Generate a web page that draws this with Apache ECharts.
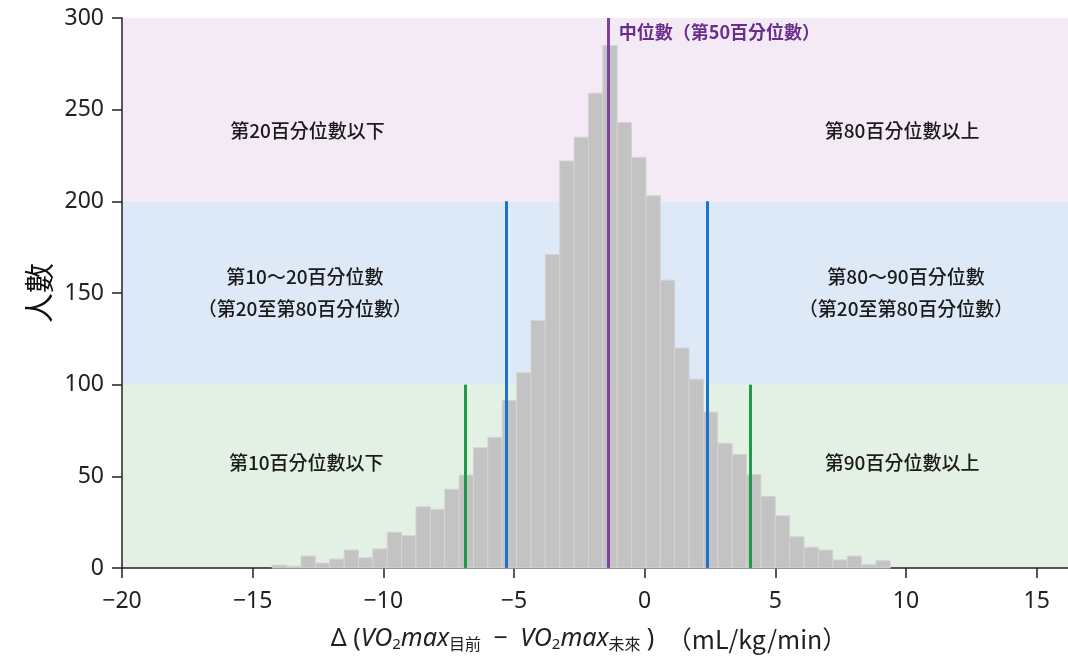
<!DOCTYPE html>
<html>
<head>
<meta charset="utf-8">
<script src="https://cdn.jsdelivr.net/npm/echarts@6/dist/echarts.min.js"></script>
<style>
  html, body { margin: 0; padding: 0; background: #ffffff; }
  #chart { width: 1068px; height: 659px; }
</style>
</head>
<body>
<div id="chart"></div>
<script>
// Histogram of ΔVO2max (current − future), 0.55 mL/kg/min bins
const binStart = -14.25;
const binWidth = 0.55;
const counts = [
  1.6, 1, 6.5, 2.7, 4.9, 9.8, 5.6, 10.4, 19.5, 17.6,
  33.4, 32, 43, 50.7, 65.6, 71.3, 91.3, 106.5,
  135, 171, 222, 235, 259, 285, 243, 224, 203, 157,
  120, 103, 85, 68, 62, 51, 39, 28.5, 17, 11.3,
  9.8, 4.4, 6.5, 1.8, 4
];

// Percentile positions on the x axis
const median = -1.385;
const p20 = -5.31, p80 = 2.39;
const p10 = -6.88, p90 = 4.05;

// Shaded count bands
const bandEdges = [0, 100, 200, 300];
const bandColors = ['#e2f1e3', '#dde9f6', '#f3eaf6'];

const xTicks = [-20, -15, -10, -5, 0, 5, 10, 15];

// Region captions: [text, x, y]
const captions = [
  ['第20百分位數以下', -12.9, 238.4],
  ['第10～20百分位數', -13.0, 158.8],
  ['（第20至第80百分位數）', -13.0, 141.3],
  ['第10百分位數以下', -12.95, 57.3],
  ['第80百分位數以上', 9.85, 238.4],
  ['第80～90百分位數', 10.0, 158.8],
  ['（第20至第80百分位數）', 10.0, 141.3],
  ['第90百分位數以上', 9.85, 57.3]
];
const medianCaption = '中位數（第50百分位數）';
const medianCaptionPos = [-0.99, 292.4];

const histData = counts.map((c, i) => [binStart + i * binWidth, binStart + (i + 1) * binWidth, c]);

const FONT = '"Noto Sans", "Noto Sans CJK TC", sans-serif';
const CJK = '"Noto Sans CJK TC", "Noto Sans", sans-serif';

function vline(x, top, color) {
  return [
    { coord: [x, 0], lineStyle: { color: color, width: 3, type: 'solid', opacity: 1 } },
    { coord: [x, top] }
  ];
}

const chart = echarts.init(document.getElementById('chart'), null, { renderer: 'canvas' });

chart.setOption({
  animation: false,
  backgroundColor: '#ffffff',
  grid: { left: 122, right: 0, top: 18, bottom: 91 },
  xAxis: {
    type: 'value',
    min: -20,
    max: 16.2,
    interval: 5,
    splitLine: { show: false },
    axisLine: { onZero: false, lineStyle: { color: '#222', width: 1.5 } },
    axisTick: { length: 10, lineStyle: { color: '#222', width: 1.5 }, customValues: xTicks },
    axisLabel: {
      customValues: xTicks,
      color: '#222', fontSize: 23, fontFamily: FONT, margin: 22,
      formatter: v => String(v).replace('-', '−')
    },
    name: '{d|Δ }{p|(}{i|VO}{sub|2}{i|max}{s|目前}{g|  }{p|−}{g|  }{i|VO}{sub|2}{i|max}{s|未來}{g| }{p|)}{g|  }{q|（mL/kg/min）}',
    nameLocation: 'middle',
    nameGap: 58,
    nameTextStyle: {
      rich: {
        d: { fontSize: 25, color: '#222', fontFamily: FONT },
        g: { fontSize: 24, color: '#222', fontFamily: FONT },
        p: { fontSize: 25, color: '#222', fontFamily: FONT },
        q: { fontSize: 25, color: '#222', fontFamily: CJK, padding: [0, 12, 0, 0] },
        i: { fontSize: 25, color: '#222', fontFamily: FONT, fontStyle: 'italic' },
        sub: { fontSize: 15, color: '#222', fontFamily: FONT, padding: [11, 0, 0, 0] },
        s: { fontSize: 16, color: '#222', fontFamily: CJK, padding: [9, 0, 0, 0] }
      }
    }
  },
  yAxis: {
    type: 'value',
    min: 0,
    max: 300,
    interval: 50,
    splitLine: { show: false },
    axisLine: { show: true, onZero: false, lineStyle: { color: '#222', width: 1.5 } },
    axisTick: { show: true, length: 10, lineStyle: { color: '#222', width: 1.5 } },
    axisLabel: { color: '#222', fontSize: 23, fontFamily: FONT, margin: 18 },
    name: '人數',
    nameLocation: 'middle',
    nameGap: 68,
    nameTextStyle: { fontSize: 30, color: '#111', fontFamily: CJK }
  },
  series: [
    {
      // histogram bars, with the count bands behind and percentile lines over them
      type: 'custom',
      z: 2,
      silent: true,
      data: histData,
      renderItem: (params, api) => {
        const p0 = api.coord([api.value(0), api.value(2)]);
        const p1 = api.coord([api.value(1), 0]);
        return {
          type: 'rect',
          shape: { x: p0[0], y: p0[1], width: p1[0] - p0[0], height: p1[1] - p0[1] },
          style: { fill: '#c3c3c3', stroke: '#d4d4d4', lineWidth: 1 }
        };
      },
      markArea: {
        silent: true,
        z: 0,
        label: { show: false },
        data: bandColors.map((col, i) => [
          { yAxis: bandEdges[i], itemStyle: { color: col, opacity: 1 } },
          { yAxis: bandEdges[i + 1] }
        ])
      },
      markLine: {
        silent: true,
        z: 5,
        symbol: 'none',
        label: { show: false },
        data: [
          vline(p10, 100, '#1f9a48'),
          vline(p90, 100, '#1f9a48'),
          vline(p20, 200, '#1d72cc'),
          vline(p80, 200, '#1d72cc'),
          vline(median, 300, '#8040a0')
        ]
      }
    },
    {
      // region captions
      type: 'scatter',
      z: 6,
      symbolSize: 0,
      silent: true,
      itemStyle: { opacity: 1 },
      data: captions.map(c => ({ value: [c[1], c[2]], name: c[0] })),
      label: {
        show: true,
        position: 'inside',
        formatter: p => p.name,
        color: '#1a1a1a',
        fontSize: 19,
        fontWeight: 500,
        fontFamily: CJK
      }
    },
    {
      // median caption
      type: 'scatter',
      z: 6,
      symbolSize: 0,
      silent: true,
      itemStyle: { opacity: 1 },
      data: [{ value: medianCaptionPos, name: medianCaption }],
      label: {
        show: true,
        position: 'inside',
        align: 'left',
        formatter: p => p.name,
        color: '#6a2d8c',
        fontSize: 18,
        fontWeight: 'bold',
        fontFamily: CJK
      }
    }
  ]
});
</script>
</body>
</html>
